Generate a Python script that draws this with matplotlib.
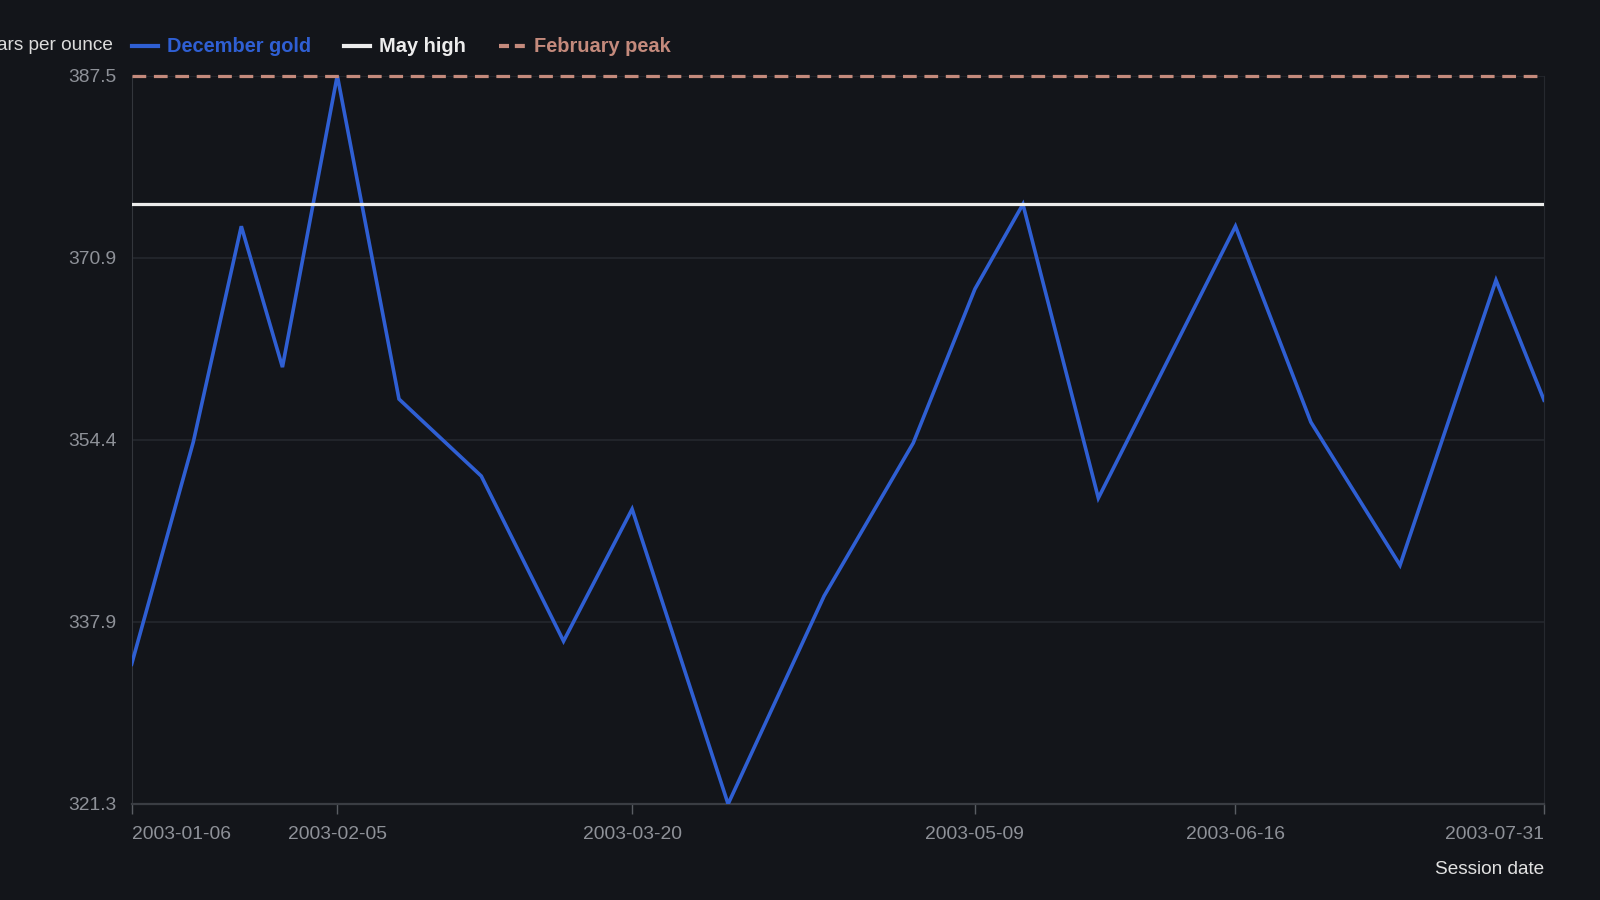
import matplotlib
matplotlib.use("Agg")
import matplotlib.pyplot as plt
import numpy as np
import pandas as pd
from matplotlib.lines import Line2D

# December gold futures settlement, 2003
SESSION_DATES = [
    "2003-01-06", "2003-01-15", "2003-01-22", "2003-01-28", "2003-02-05",
    "2003-02-14", "2003-02-26", "2003-03-10", "2003-03-20", "2003-04-03",
    "2003-04-17", "2003-04-30", "2003-05-09", "2003-05-16", "2003-05-27",
    "2003-06-16", "2003-06-27", "2003-07-10", "2003-07-24", "2003-07-31",
]
DEC_GOLD = [
    334.0, 354.2, 373.8, 361.0, 387.5,
    358.1, 351.1, 336.1, 348.1, 321.3,
    340.2, 354.1, 368.1, 375.8, 349.1,
    373.8, 356.0, 343.0, 368.9, 358.0,
]
MAY_HIGH = 375.8
FEBRUARY_PEAK = 387.5

X_TICKS = ["2003-01-06", "2003-02-05", "2003-03-20", "2003-05-09", "2003-06-16", "2003-07-31"]
Y_TICKS = [321.3, 337.85, 354.4, 370.95, 387.5]
Y_TICK_LABELS = ["321.3", "337.9", "354.4", "370.9", "387.5"]

BG = "#13151a"
BLUE = "#2f5fd3"
WHITE = "#ececec"
SALMON = "#c48a7c"
TICK_GRAY = "#8e9198"
GRID = "#26292f"
SPINE = "#33363c"

plt.rcParams["font.family"] = ["Liberation Sans", "DejaVu Sans"]

dates = pd.to_datetime(SESSION_DATES)
xticks = pd.to_datetime(X_TICKS)

fig = plt.figure(figsize=(16, 9), dpi=100)
fig.patch.set_facecolor(BG)
ax = fig.add_axes([131.6 / 1600, 1 - 804 / 900, (1544 - 131.6) / 1600, (804 - 75.5) / 900])
ax.set_facecolor(BG)

ax.plot(dates, DEC_GOLD, color=BLUE, linewidth=2.6, solid_joinstyle="miter", zorder=3)
ax.axhline(MAY_HIGH, color=WHITE, linewidth=2.3, zorder=4)
ax.axhline(FEBRUARY_PEAK, color=SALMON, linewidth=2.3, linestyle=(0, (4.3, 2.4)), zorder=4, clip_on=False)

ax.set_xlim(dates[0], dates[-1])
ax.set_ylim(Y_TICKS[0], Y_TICKS[-1])

ax.set_yticks(Y_TICKS)
ax.set_yticklabels(Y_TICK_LABELS)
ax.set_xticks(xticks)
ax.set_xticklabels([d.strftime("%Y-%m-%d") for d in xticks])
for i, lbl in enumerate(ax.get_xticklabels()):
    if i == 0:
        lbl.set_horizontalalignment("left")
    elif i == len(xticks) - 1:
        lbl.set_horizontalalignment("right")

ax.tick_params(axis="y", length=0, pad=11, labelsize=13.9, colors=TICK_GRAY)
ax.tick_params(axis="x", length=7, width=1, pad=9, labelsize=13.9, colors=TICK_GRAY, color="#5a5d63")

ax.grid(axis="y", color=GRID, linewidth=1.1)
ax.set_axisbelow(True)

ax.spines["top"].set_visible(False)
ax.spines["left"].set_color(SPINE)
ax.spines["right"].set_color(GRID)
ax.spines["bottom"].set_color("#3a3d43")
ax.spines["bottom"].set_linewidth(1.6)

fig.text(1544 / 1600, 1 - 869 / 900, "Session date", ha="right", va="center", fontsize=13.7, color="#e2e2e2")
fig.text(113 / 1600, 1 - 45 / 900, "US dollars per ounce", ha="right", va="center", fontsize=13.7, color="#dcdcdc")

handles = [
    Line2D([], [], color=BLUE, linewidth=3),
    Line2D([], [], color=WHITE, linewidth=3),
    Line2D([], [], color=SALMON, linewidth=3, linestyle=(0, (2.4, 1.4))),
]
fig.legend(
    handles,
    ["December gold", "May high", "February peak"],
    loc="center left",
    bbox_to_anchor=(131.6 / 1600, 1 - 47 / 900),
    ncol=3,
    frameon=False,
    borderpad=0,
    borderaxespad=0,
    handlelength=1.3,
    handletextpad=0.45,
    columnspacing=1.65,
    labelcolor="linecolor",
    prop={"weight": "bold", "size": 14.4},
)

fig.savefig("out.png", dpi=100, facecolor=BG)
